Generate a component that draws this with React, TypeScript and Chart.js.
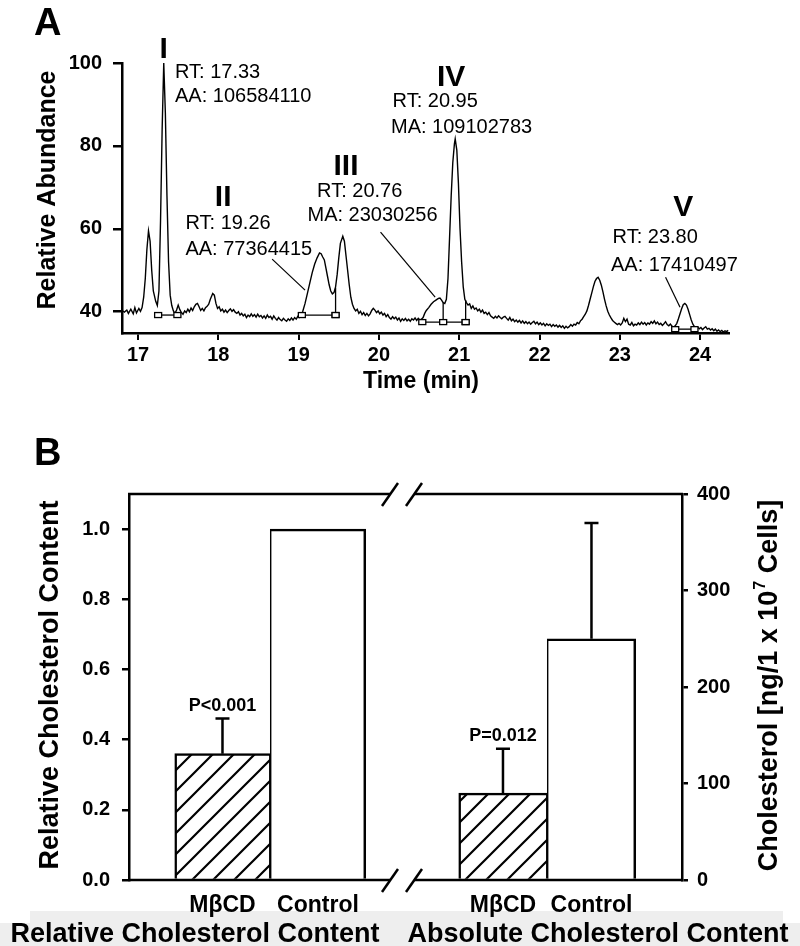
import React, { useEffect, useRef } from 'react';
import { Chart, registerables } from 'chart.js';

Chart.register(...registerables);

const FONT = '"Liberation Sans", Arial, Helvetica, sans-serif';

// ---------- Panel A: chromatogram ----------
const chromatogram: [number, number][] = [
  [16.80, 40.3], [16.83, 39.9], [16.86, 40.4], [16.88, 39.6], [16.91, 40.6], [16.94, 39.5], [16.96, 41.0], [16.98, 39.7],
  [17.01, 40.8], [17.03, 40.1], [17.05, 41.0], [17.07, 43.5], [17.09, 48.0], [17.11, 55.0], [17.13, 59.5], [17.15, 57.0],
  [17.17, 50.0], [17.19, 45.0], [17.22, 42.5], [17.24, 41.5], [17.26, 45.0], [17.28, 62.0], [17.30, 84.0], [17.32, 100.0],
  [17.34, 88.0], [17.36, 68.0], [17.38, 52.0], [17.40, 44.0], [17.42, 41.5], [17.44, 40.2], [17.46, 39.6], [17.48, 40.4],
  [17.50, 41.6], [17.52, 40.5], [17.54, 39.8], [17.56, 39.4], [17.58, 40.2], [17.60, 39.8], [17.62, 40.6], [17.64, 40.0],
  [17.66, 40.9], [17.68, 40.3], [17.70, 41.2], [17.72, 41.8], [17.74, 42.0], [17.76, 41.2], [17.78, 40.3], [17.80, 40.8],
  [17.82, 40.2], [17.84, 41.0], [17.86, 41.3], [17.88, 41.8], [17.90, 43.0], [17.93, 44.4], [17.95, 44.0], [17.97, 42.0],
  [17.99, 40.8], [18.01, 41.2], [18.03, 40.2], [18.05, 40.6], [18.07, 39.9], [18.09, 40.4], [18.11, 39.8], [18.13, 40.3],
  [18.15, 40.7], [18.17, 40.1], [18.19, 40.5], [18.21, 39.9], [18.23, 39.6], [18.25, 40.0], [18.27, 39.2], [18.29, 39.6],
  [18.31, 39.0], [18.33, 39.4], [18.35, 38.6], [18.37, 39.2], [18.39, 38.8], [18.41, 39.5], [18.43, 38.9], [18.45, 39.3],
  [18.47, 38.7], [18.49, 39.4], [18.51, 38.8], [18.53, 39.1], [18.55, 38.5], [18.57, 39.0], [18.59, 38.4], [18.61, 39.2],
  [18.63, 38.6], [18.65, 38.9], [18.67, 38.2], [18.69, 39.0], [18.71, 38.4], [18.73, 38.0], [18.75, 38.6], [18.77, 38.1],
  [18.79, 37.8], [18.81, 38.4], [18.83, 38.0], [18.85, 37.7], [18.87, 38.3], [18.89, 37.9], [18.91, 38.5], [18.93, 38.0],
  [18.95, 38.6], [18.97, 38.2], [18.99, 38.9], [19.01, 38.6], [19.03, 39.3], [19.05, 40.0], [19.08, 42.0], [19.11, 44.5],
  [19.14, 47.0], [19.17, 49.5], [19.20, 51.5], [19.23, 53.0], [19.26, 54.2], [19.28, 54.0], [19.30, 53.2], [19.32, 52.5],
  [19.34, 50.5], [19.36, 48.5], [19.38, 46.5], [19.40, 45.0], [19.42, 44.3], [19.44, 44.6], [19.46, 46.0], [19.48, 49.0],
  [19.50, 53.0], [19.52, 56.5], [19.55, 58.2], [19.57, 57.0], [19.59, 53.5], [19.61, 50.0], [19.63, 46.5], [19.65, 43.5],
  [19.67, 41.8], [19.69, 40.8], [19.71, 40.2], [19.73, 40.6], [19.75, 39.6], [19.77, 40.1], [19.79, 39.3], [19.81, 39.8],
  [19.83, 39.1], [19.85, 39.6], [19.87, 39.0], [19.89, 39.5], [19.91, 40.3], [19.93, 40.8], [19.95, 40.4], [19.97, 39.8],
  [19.99, 40.2], [20.01, 39.5], [20.03, 39.9], [20.05, 39.2], [20.07, 39.6], [20.09, 38.8], [20.11, 39.3], [20.13, 38.6],
  [20.15, 38.2], [20.17, 38.8], [20.19, 38.3], [20.21, 38.7], [20.23, 38.0], [20.25, 38.5], [20.27, 37.7], [20.29, 38.3],
  [20.31, 37.9], [20.33, 38.4], [20.35, 37.8], [20.37, 38.2], [20.39, 37.7], [20.41, 38.3], [20.43, 38.0], [20.45, 38.5],
  [20.47, 37.9], [20.49, 38.4], [20.51, 38.0], [20.53, 38.2], [20.55, 38.6], [20.57, 39.6], [20.59, 40.3], [20.62, 41.0],
  [20.65, 41.8], [20.68, 42.4], [20.71, 42.8], [20.74, 43.2], [20.76, 43.3], [20.78, 42.8], [20.80, 42.2], [20.82, 42.0],
  [20.84, 43.0], [20.86, 48.0], [20.88, 58.0], [20.90, 68.0], [20.92, 76.0], [20.94, 80.5], [20.95, 81.7], [20.97, 79.0],
  [20.99, 71.0], [21.01, 60.0], [21.03, 52.0], [21.05, 46.0], [21.07, 43.0], [21.09, 42.2], [21.11, 41.6], [21.13, 41.9],
  [21.15, 40.8], [21.17, 41.4], [21.19, 40.6], [21.21, 40.9], [21.23, 40.2], [21.25, 40.6], [21.27, 39.9], [21.29, 40.4],
  [21.31, 39.6], [21.33, 39.9], [21.35, 39.3], [21.37, 39.8], [21.39, 39.0], [21.41, 38.7], [21.43, 38.4], [21.45, 38.9],
  [21.47, 38.5], [21.49, 39.0], [21.51, 38.6], [21.53, 38.3], [21.55, 38.7], [21.57, 38.9], [21.59, 38.4], [21.61, 38.0],
  [21.63, 38.6], [21.65, 37.8], [21.67, 38.2], [21.69, 37.6], [21.71, 38.0], [21.73, 37.5], [21.75, 37.9], [21.77, 37.3],
  [21.79, 37.8], [21.81, 37.2], [21.83, 37.6], [21.85, 37.1], [21.87, 37.5], [21.89, 37.0], [21.91, 37.4], [21.93, 37.7],
  [21.95, 37.1], [21.97, 37.5], [21.99, 36.9], [22.01, 37.3], [22.03, 36.8], [22.05, 37.2], [22.07, 36.6], [22.09, 37.1],
  [22.11, 36.7], [22.13, 37.0], [22.15, 36.4], [22.17, 36.9], [22.19, 36.5], [22.21, 36.8], [22.23, 36.3], [22.25, 36.7],
  [22.27, 36.2], [22.29, 36.6], [22.31, 36.0], [22.33, 36.5], [22.35, 36.1], [22.37, 36.4], [22.39, 36.9], [22.41, 36.5],
  [22.43, 37.0], [22.45, 36.8], [22.47, 37.4], [22.49, 37.1], [22.51, 37.8], [22.53, 38.2], [22.55, 38.8], [22.57, 39.4],
  [22.59, 40.2], [22.61, 41.5], [22.63, 43.0], [22.65, 44.5], [22.67, 46.0], [22.69, 47.3], [22.71, 48.0], [22.73, 48.3],
  [22.75, 47.6], [22.77, 46.4], [22.79, 44.8], [22.81, 43.0], [22.83, 41.4], [22.85, 40.1], [22.87, 39.2], [22.89, 38.5],
  [22.91, 37.9], [22.93, 37.5], [22.95, 37.2], [22.97, 36.9], [22.99, 37.2], [23.01, 36.8], [23.03, 37.3], [23.05, 38.4],
  [23.07, 37.6], [23.09, 38.2], [23.11, 37.0], [23.13, 36.8], [23.15, 37.4], [23.17, 36.6], [23.19, 37.0], [23.21, 36.8],
  [23.23, 37.3], [23.25, 36.9], [23.27, 37.5], [23.29, 37.0], [23.31, 37.4], [23.33, 36.8], [23.35, 37.3], [23.37, 37.0],
  [23.39, 37.6], [23.41, 37.2], [23.43, 37.8], [23.45, 37.1], [23.47, 37.5], [23.49, 36.9], [23.51, 37.2], [23.53, 36.7],
  [23.55, 37.1], [23.57, 37.6], [23.59, 36.9], [23.61, 36.6], [23.63, 37.0], [23.65, 36.5], [23.67, 36.3], [23.69, 36.6],
  [23.71, 37.2], [23.73, 38.3], [23.75, 39.5], [23.77, 40.7], [23.79, 41.7], [23.81, 42.0], [23.83, 41.6], [23.85, 40.6],
  [23.87, 39.3], [23.89, 38.0], [23.91, 37.0], [23.93, 36.4], [23.95, 36.0], [23.97, 36.3], [23.99, 35.9], [24.01, 36.2],
  [24.03, 35.7], [24.05, 36.1], [24.07, 36.4], [24.09, 35.8], [24.11, 36.0], [24.13, 35.6], [24.15, 35.9], [24.17, 35.4],
  [24.19, 35.8], [24.21, 35.3], [24.23, 35.6], [24.25, 35.2], [24.27, 35.5], [24.29, 35.1], [24.31, 35.4], [24.33, 35.2],
  [24.35, 35.5],
];
const timeTicks = [17, 18, 19, 20, 21, 22, 23, 24];
const abundanceTicks = [40, 60, 80, 100];

const peakNames = ['I', 'II', 'III', 'IV', 'V'];
const peakRT = ['17.33', '19.26', '20.76', '20.95', '23.80'];
const peakAreaType = ['AA', 'AA', 'MA', 'MA', 'AA'];
const peakArea = ['106584110', '77364415', '23030256', '109102783', '17410497'];

// integration baselines
const integStart = [17.25, 19.04, 20.54, 23.69];
const integEnd = [17.49, 19.46, 21.08, 23.93];
const integLevel = [39.2, 39.2, 37.5, 35.8];
const dividerTime = [19.46, 20.80, 21.08];
const dividerLevel = [39.2, 37.5, 37.5];
const dividerTop = [45.8, 42.2, 42.8];

// ---------- Panel B: cholesterol bars ----------
const groupLabels = ['MβCD', 'Control'];
const relativeMean = [0.36, 1.0];
const relativeErr = [0.10, 0];
const absoluteMean = [90, 250];
const absoluteErr = [46, 120];
const pLabels = ['P<0.001', 'P=0.012'];
const relTicks = [0, 0.2, 0.4, 0.6, 0.8, 1.0];
const absTicks = [0, 100, 200, 300, 400];
const barSlot = [1, 2];

// label placement for panel A (data coordinates)
const peakLabelPos = [
  { nt: 17.32, nv: 101.2, rt: 17.46, rv: 96.4, at: 17.46, av: 90.6 },
  { nt: 18.06, nv: 65.6, rt: 17.59, rv: 59.9, at: 17.59, av: 53.6 },
  { nt: 19.59, nv: 72.9, rt: 19.23, rv: 67.6, at: 19.11, av: 61.8 },
  { nt: 20.90, nv: 94.5, rt: 20.17, rv: 89.4, at: 20.15, av: 83.0 },
  { nt: 23.79, nv: 63.2, rt: 22.91, rv: 56.5, at: 22.89, av: 49.8 },
];
const leaders = [
  [18.67, 52.7, 19.08, 45.2],
  [20.02, 59.2, 20.70, 43.5],
  [23.57, 48.3, 23.75, 41.1],
];

const tickFont = { family: FONT, size: 20, weight: 'bold' as const };

function makeHatch(ctx: CanvasRenderingContext2D): CanvasPattern | string {
  const s = 21;
  const c = document.createElement('canvas');
  c.width = s;
  c.height = s;
  const g = c.getContext('2d');
  if (!g) return '#fff';
  g.fillStyle = '#fff';
  g.fillRect(0, 0, s, s);
  g.strokeStyle = '#000';
  g.lineWidth = 2.2;
  g.beginPath();
  g.moveTo(-2, s + 2);
  g.lineTo(s + 2, -2);
  g.moveTo(-s / 2 - 2, s / 2 + 2);
  g.lineTo(s / 2 + 2, -s / 2 - 2);
  g.moveTo(s / 2 - 2, s * 1.5 + 2);
  g.lineTo(s * 1.5 + 2, s / 2 - 2);
  g.stroke();
  return ctx.createPattern(c, 'repeat') || '#fff';
}

const panelAPlugin = {
  id: 'panelA',
  afterDraw(chart: any) {
    const { ctx } = chart;
    const xs = chart.scales.x;
    const ys = chart.scales.y;
    const X = (t: number) => xs.getPixelForValue(t);
    const Y = (v: number) => ys.getPixelForValue(v);
    ctx.save();
    ctx.strokeStyle = '#000';
    ctx.fillStyle = '#000';
    ctx.lineWidth = 1.3;
    const squares: [number, number][] = [];
    integStart.forEach((s, i) => {
      ctx.beginPath();
      ctx.moveTo(X(s), Y(integLevel[i]));
      ctx.lineTo(X(integEnd[i]), Y(integLevel[i]));
      ctx.stroke();
      squares.push([X(s), Y(integLevel[i])], [X(integEnd[i]), Y(integLevel[i])]);
    });
    dividerTime.forEach((t, i) => {
      ctx.beginPath();
      ctx.moveTo(X(t), Y(dividerLevel[i]));
      ctx.lineTo(X(t), Y(dividerTop[i]));
      ctx.stroke();
      squares.push([X(t), Y(dividerLevel[i])]);
    });
    squares.forEach(([x, y]) => {
      ctx.fillStyle = '#fff';
      ctx.fillRect(x - 3.5, y - 2.5, 7, 5);
      ctx.strokeRect(x - 3.5, y - 2.5, 7, 5);
    });
    ctx.lineWidth = 1.2;
    leaders.forEach(([t1, v1, t2, v2]) => {
      ctx.beginPath();
      ctx.moveTo(X(t1), Y(v1));
      ctx.lineTo(X(t2), Y(v2));
      ctx.stroke();
    });
    ctx.fillStyle = '#000';
    ctx.textBaseline = 'alphabetic';
    peakNames.forEach((n, i) => {
      const p = peakLabelPos[i];
      ctx.font = `bold 30px ${FONT}`;
      ctx.textAlign = 'center';
      ctx.fillText(n, X(p.nt), Y(p.nv));
      ctx.font = `20px ${FONT}`;
      ctx.textAlign = 'left';
      ctx.fillText(`RT: ${peakRT[i]}`, X(p.rt), Y(p.rv));
      ctx.fillText(`${peakAreaType[i]}: ${peakArea[i]}`, X(p.at), Y(p.av));
    });
    ctx.font = `bold 23px ${FONT}`;
    ctx.textAlign = 'center';
    ctx.fillText('Time (min)', 421, 388);
    ctx.save();
    ctx.translate(55, 190);
    ctx.rotate(-Math.PI / 2);
    ctx.font = `bold 25px ${FONT}`;
    ctx.fillText('Relative Abundance', 0, 0);
    ctx.restore();
    ctx.font = `bold 38px ${FONT}`;
    ctx.textAlign = 'left';
    ctx.fillText('A', 34, 35);
    ctx.restore();
  },
};

const BREAK_X = [390, 414];

const panelBPlugin = {
  id: 'panelB',
  beforeDraw(chart: any) {
    const { ctx } = chart;
    ctx.save();
    ctx.fillStyle = '#eeeeee';
    ctx.fillRect(30, 511, 753, 35);
    ctx.fillRect(0, 523, 800, 23);
    ctx.restore();
  },
  afterDatasetsDraw(chart: any) {
    const { ctx } = chart;
    ctx.save();
    ctx.strokeStyle = '#000';
    ctx.fillStyle = '#000';
    ctx.lineWidth = 2.5;
    const groups = [
      { meta: chart.getDatasetMeta(0), scale: chart.scales.y, mean: relativeMean, err: relativeErr },
      { meta: chart.getDatasetMeta(1), scale: chart.scales.y2, mean: absoluteMean, err: absoluteErr },
    ];
    groups.forEach((g, gi) => {
      g.mean.forEach((m, i) => {
        const bar = g.meta.data[i];
        const e = g.err[i];
        if (!bar || !e) return;
        const x = bar.x;
        const y0 = g.scale.getPixelForValue(m);
        const y1 = g.scale.getPixelForValue(m + e);
        ctx.beginPath();
        ctx.moveTo(x, y0);
        ctx.lineTo(x, y1);
        ctx.moveTo(x - 7, y1);
        ctx.lineTo(x + 7, y1);
        ctx.stroke();
        if (i === 0) {
          ctx.font = `bold 18px ${FONT}`;
          ctx.textAlign = 'center';
          ctx.textBaseline = 'alphabetic';
          ctx.fillText(pLabels[gi], x, y1 - 8);
        }
      });
      g.meta.data.forEach((bar: any, i: number) => {
        ctx.font = `bold 23px ${FONT}`;
        ctx.textAlign = 'center';
        ctx.textBaseline = 'alphabetic';
        ctx.fillText(groupLabels[i], bar.x, 512);
      });
    });
    ctx.restore();
  },
  afterDraw(chart: any) {
    const { ctx, chartArea } = chart;
    const { left, right, top, bottom } = chartArea;
    ctx.save();
    ctx.strokeStyle = '#000';
    ctx.fillStyle = '#000';
    ctx.lineWidth = 2.5;
    [top, bottom].forEach((y) => {
      ctx.beginPath();
      ctx.moveTo(left - 1, y);
      ctx.lineTo(BREAK_X[0], y);
      ctx.moveTo(BREAK_X[1], y);
      ctx.lineTo(right + 1, y);
      ctx.stroke();
      BREAK_X.forEach((bx) => {
        ctx.beginPath();
        ctx.moveTo(bx - 8, y + 12);
        ctx.lineTo(bx + 8, y - 11);
        ctx.stroke();
      });
    });
    ctx.textBaseline = 'alphabetic';
    ctx.textAlign = 'center';
    ctx.font = `bold 27px ${FONT}`;
    ctx.fillText('Relative Cholesterol Content', 195, 542);
    ctx.fillText('Absolute Cholesterol Content', 598, 542);
    ctx.save();
    ctx.translate(58, 285);
    ctx.rotate(-Math.PI / 2);
    ctx.font = `bold 27px ${FONT}`;
    ctx.fillText('Relative Cholesterol Content', 0, 0);
    ctx.restore();
    ctx.save();
    ctx.translate(777, 286);
    ctx.rotate(-Math.PI / 2);
    const bigFont = `bold 27px ${FONT}`;
    const supFont = `bold 16px ${FONT}`;
    const p1 = 'Cholesterol [ng/1 x 10';
    const p2 = '7';
    const p3 = ' Cells]';
    ctx.font = bigFont;
    const w1 = ctx.measureText(p1).width;
    const w3 = ctx.measureText(p3).width;
    ctx.font = supFont;
    const w2 = ctx.measureText(p2).width;
    let sx = -(w1 + w2 + w3) / 2;
    ctx.textAlign = 'left';
    ctx.font = bigFont;
    ctx.fillText(p1, sx, 0);
    sx += w1;
    ctx.font = supFont;
    ctx.fillText(p2, sx + 1, -12);
    sx += w2 + 1;
    ctx.font = bigFont;
    ctx.fillText(p3, sx, 0);
    ctx.restore();
    ctx.font = `bold 38px ${FONT}`;
    ctx.textAlign = 'left';
    ctx.fillText('B', 34, 65);
    ctx.restore();
  },
};

const hiddenSlotAxis = (min: number, max: number) => ({
  type: 'linear' as const,
  display: true,
  position: 'bottom' as const,
  min,
  max,
  offset: false,
  afterBuildTicks: (s: any) => {
    s.ticks = barSlot.map((v) => ({ value: v }));
  },
  afterFit: (s: any) => {
    s.height = 0;
  },
  ticks: { display: false },
  grid: { display: false, drawTicks: false, offset: false },
  border: { display: false },
});

export default function App() {
  const refA = useRef<HTMLCanvasElement>(null);
  const refB = useRef<HTMLCanvasElement>(null);

  useEffect(() => {
    if (!refA.current || !refB.current) return;
    const chartA = new Chart(refA.current, {
      type: 'line',
      data: {
        datasets: [
          {
            data: chromatogram.map(([t, v]) => ({ x: t, y: v })),
            borderColor: '#000',
            borderWidth: 1.4,
            pointRadius: 0,
            tension: 0,
            fill: false,
          },
        ],
      },
      options: {
        animation: false,
        responsive: false,
        devicePixelRatio: 1,
        layout: { padding: { top: 63, right: 71, left: 0, bottom: 0 } },
        plugins: { legend: { display: false }, tooltip: { enabled: false } },
        scales: {
          x: {
            type: 'linear',
            min: 16.8,
            max: 24.36,
            afterBuildTicks: (s: any) => {
              s.ticks = timeTicks.map((v) => ({ value: v }));
            },
            afterFit: (s: any) => {
              s.height = 67;
            },
            ticks: { font: tickFont, color: '#000', padding: 3, maxRotation: 0, autoSkip: false, callback: (v: any) => String(v) },
            grid: { drawOnChartArea: false, drawTicks: true, tickLength: 7, color: '#000', lineWidth: 2 },
            border: { display: true, color: '#000', width: 2.5 },
          },
          y: {
            type: 'linear',
            min: 34.87,
            max: 100,
            afterBuildTicks: (s: any) => {
              s.ticks = abundanceTicks.map((v) => ({ value: v }));
            },
            afterFit: (s: any) => {
              s.width = 122;
            },
            ticks: { font: tickFont, color: '#000', padding: 11, callback: (v: any) => String(v) },
            grid: { drawOnChartArea: false, drawTicks: true, tickLength: 9, color: '#000', lineWidth: 2.5 },
            border: { display: true, color: '#000', width: 2.5 },
          },
        },
      },
      plugins: [panelAPlugin],
    });

    const ctxB = refB.current.getContext('2d') as CanvasRenderingContext2D;
    const hatch = makeHatch(ctxB);
    const barBorders = [
      { top: 2.5, left: 2.5, right: 1.5, bottom: 0 },
      { top: 2.5, left: 1.5, right: 2.5, bottom: 0 },
    ];
    const chartB = new Chart(refB.current, {
      type: 'bar',
      data: {
        datasets: [
          {
            data: barSlot.map((s, i) => ({ x: s, y: relativeMean[i] })),
            xAxisID: 'xL',
            yAxisID: 'y',
            backgroundColor: [hatch, '#ffffff'],
            borderColor: '#000',
            borderWidth: barBorders,
            borderSkipped: false,
            barPercentage: 1,
            categoryPercentage: 1,
            grouped: false,
          } as any,
          {
            data: barSlot.map((s, i) => ({ x: s, y: absoluteMean[i] })),
            xAxisID: 'xR',
            yAxisID: 'y2',
            backgroundColor: [hatch, '#ffffff'],
            borderColor: '#000',
            borderWidth: barBorders,
            borderSkipped: false,
            barPercentage: 1,
            categoryPercentage: 1,
            grouped: false,
          } as any,
        ],
      },
      options: {
        animation: false,
        responsive: false,
        devicePixelRatio: 1,
        layout: { padding: { top: 94, bottom: 66, left: 0, right: 0 } },
        plugins: { legend: { display: false }, tooltip: { enabled: false } },
        scales: {
          xL: hiddenSlotAxis(0.021, 5.812),
          xR: hiddenSlotAxis(-3.226, 3.023),
          y: {
            type: 'linear',
            position: 'left',
            min: 0,
            max: 1.1,
            afterBuildTicks: (s: any) => {
              s.ticks = relTicks.map((v) => ({ value: v }));
            },
            afterFit: (s: any) => {
              s.width = 129;
            },
            ticks: { font: tickFont, color: '#000', padding: 12, callback: (v: any) => Number(v).toFixed(1) },
            grid: { drawOnChartArea: false, drawTicks: true, tickLength: 7, color: '#000', lineWidth: 2.5 },
            border: { display: true, color: '#000', width: 2.5 },
          },
          y2: {
            type: 'linear',
            position: 'right',
            min: 0,
            max: 400,
            afterBuildTicks: (s: any) => {
              s.ticks = absTicks.map((v) => ({ value: v }));
            },
            afterFit: (s: any) => {
              s.width = 118;
            },
            ticks: { font: tickFont, color: '#000', padding: 9, callback: (v: any) => String(v) },
            grid: { drawOnChartArea: false, drawTicks: true, tickLength: 6, color: '#000', lineWidth: 2.5 },
            border: { display: true, color: '#000', width: 2.5 },
          },
        },
      },
      plugins: [panelBPlugin],
    });

    return () => {
      chartA.destroy();
      chartB.destroy();
    };
  }, []);

  return (
    <div style={{ position: 'absolute', left: 0, top: 0, width: 800, height: 946, background: '#fff' }}>
      <canvas ref={refA} width={800} height={400} style={{ position: 'absolute', left: 0, top: 0, width: 800, height: 400 }} />
      <canvas ref={refB} width={800} height={546} style={{ position: 'absolute', left: 0, top: 400, width: 800, height: 546 }} />
    </div>
  );
}
